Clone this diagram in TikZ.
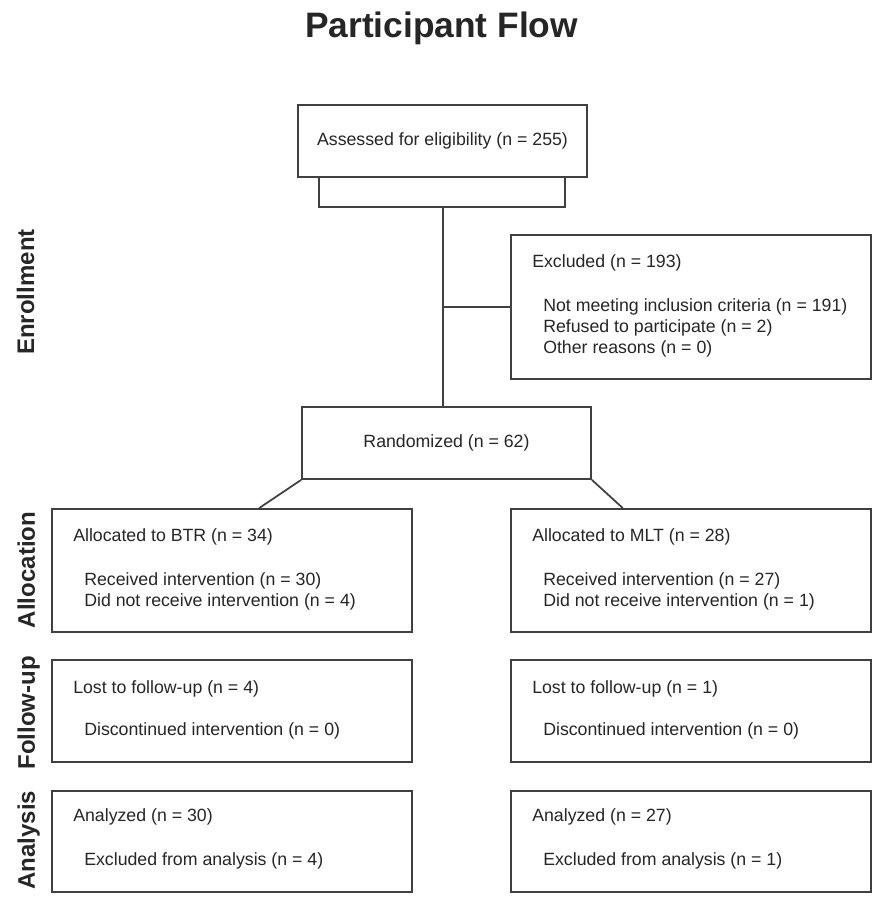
\documentclass[tikz,border=0pt]{standalone}
\usepackage{fontspec}
\setmainfont{Liberation Sans}
\begin{document}
\begin{tikzpicture}[x=0.75pt,y=-0.75pt,
  box/.style={draw=black!75, line width=1.3pt, fill=white, inner sep=0pt},
  conn/.style={draw=black!75, line width=1.3pt},
  txt/.style={anchor=west, inner sep=0pt, text=black!85, font=\fontsize{13.3}{16}\selectfont},
  ctxt/.style={inner sep=0pt, text=black!85, font=\fontsize{13.3}{16}\selectfont},
  side/.style={rotate=90, anchor=base, inner sep=0pt, text=black!85, font=\bfseries\fontsize{18}{22}\selectfont},
  title/.style={anchor=base, inner sep=0pt, text=black!85, font=\bfseries\fontsize{26.5}{30}\selectfont}]
\useasboundingbox[fill=white] (0,0) rectangle (877,897);

\node[title] (ttl) at (441.5,37) {Participant Flow};

% side labels
\node[side] (lenr) at (34,292) {Enrollment};
\node[side] (lall) at (35,570) {Allocation};
\node[side] (lfol) at (35,713) {Follow-up};
\node[side] (lana) at (35,840) {Analysis};

% enrollment
\node[box, minimum width=289*0.75pt, minimum height=72*0.75pt] (assess) at (442.5,141) {};
\node[ctxt] (assesst) at (442.5,141) {Assessed for eligibility (n = 255)};
\coordinate (bl) at (319,207);
\coordinate (br) at (565,207);
\coordinate (bm) at (443,207);
\draw[conn] (319,177) -- (bl) -- (br) -- (565,177);

\node[box, minimum width=360*0.75pt, minimum height=144*0.75pt] (excl) at (691,307) {};
\node[txt] (excl1) at (532,263) {Excluded (n = 193)};
\node[txt] (excl2) at (543,307) {Not meeting inclusion criteria (n = 191)};
\node[txt] (excl3) at (543,328) {Refused to participate (n = 2)};
\node[txt] (excl4) at (543,349) {Other reasons (n = 0)};

\node[box, minimum width=289*0.75pt, minimum height=72*0.75pt] (rand) at (446.5,443) {};
\node[ctxt] (randt) at (446.5,443) {Randomized (n = 62)};

\coordinate (jx) at (443,307);
\draw[conn] (bm) -- (bm |- rand.north);
\draw[conn] (jx) -- (excl.west |- jx);

% allocation
\node[box, minimum width=360*0.75pt, minimum height=123*0.75pt] (allocL) at (232,570.5) {};
\node[box, minimum width=360*0.75pt, minimum height=123*0.75pt] (allocR) at (691,570.5) {};
\draw[conn] (rand.south west) -- ([xshift=-42*0.75pt]allocL.north -| rand.south west);
\draw[conn] (rand.south east) -- ([xshift=31*0.75pt]allocR.north -| rand.south east);

\node[txt] (aL1) at (73,537) {Allocated to BTR (n = 34)};
\node[txt] (aL2) at (84,581) {Received intervention (n = 30)};
\node[txt] (aL3) at (84,602) {Did not receive intervention (n = 4)};
\node[txt] (aR1) at (532,537) {Allocated to MLT (n = 28)};
\node[txt] (aR2) at (543,581) {Received intervention (n = 27)};
\node[txt] (aR3) at (543,602) {Did not receive intervention (n = 1)};

% follow-up
\node[box, minimum width=360*0.75pt, minimum height=102*0.75pt] (folL) at (232,711) {};
\node[box, minimum width=360*0.75pt, minimum height=102*0.75pt] (folR) at (691,711) {};
\node[txt] (fL1) at (73,689) {Lost to follow-up (n = 4)};
\node[txt] (fL2) at (84,731) {Discontinued intervention (n = 0)};
\node[txt] (fR1) at (532,689) {Lost to follow-up (n = 1)};
\node[txt] (fR2) at (543,731) {Discontinued intervention (n = 0)};

% analysis
\node[box, minimum width=360*0.75pt, minimum height=101*0.75pt] (anaL) at (232,841.5) {};
\node[box, minimum width=360*0.75pt, minimum height=101*0.75pt] (anaR) at (691,841.5) {};
\node[txt] (nL1) at (73,817) {Analyzed (n = 30)};
\node[txt] (nL2) at (84,861) {Excluded from analysis (n = 4)};
\node[txt] (nR1) at (532,817) {Analyzed (n = 27)};
\node[txt] (nR2) at (543,861) {Excluded from analysis (n = 1)};
\end{tikzpicture}
\end{document}
